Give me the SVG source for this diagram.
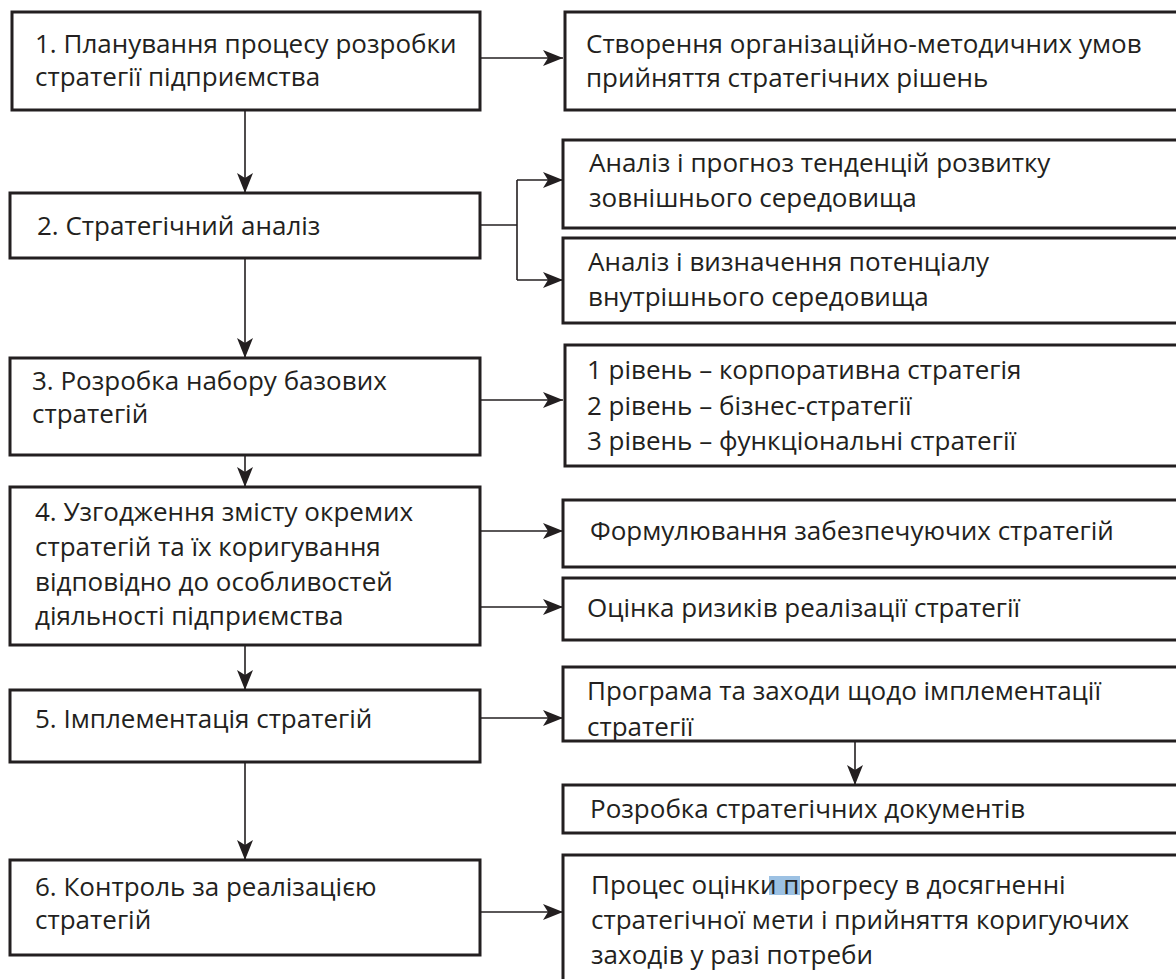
<svg xmlns="http://www.w3.org/2000/svg" width="1176" height="979" viewBox="0 0 1176 979">
<defs>
<style>
.box{fill:#fff;stroke:#231f20;stroke-width:3}
.t{font-family:"Open Sans","Noto Sans",sans-serif;font-size:26px;fill:#231f20}
.c{fill:none;stroke:#231f20;stroke-width:1.6}
</style>
<marker id="ah" markerUnits="userSpaceOnUse" markerWidth="22" markerHeight="16" refX="20" refY="8" orient="auto">
<path d="M0,0 L20,8 L0,16 L5,8 Z" fill="#231f20"/>
</marker>
</defs>
<rect width="1176" height="979" fill="#fff"/>
<g id="connectors">
<line class="c" x1="480" y1="58" x2="563" y2="58" marker-end="url(#ah)"/>
<line class="c" x1="245" y1="111" x2="245" y2="193" marker-end="url(#ah)"/>
<polyline class="c" points="480,225 517,225"/>
<line class="c" x1="517" y1="180" x2="517" y2="280"/>
<line class="c" x1="517" y1="180" x2="563" y2="180" marker-end="url(#ah)"/>
<line class="c" x1="517" y1="280" x2="563" y2="280" marker-end="url(#ah)"/>
<line class="c" x1="245" y1="258" x2="245" y2="358" marker-end="url(#ah)"/>
<line class="c" x1="480" y1="400" x2="563" y2="400" marker-end="url(#ah)"/>
<line class="c" x1="245" y1="455" x2="245" y2="487" marker-end="url(#ah)"/>
<line class="c" x1="480" y1="531" x2="563" y2="531" marker-end="url(#ah)"/>
<line class="c" x1="480" y1="607" x2="563" y2="607" marker-end="url(#ah)"/>
<line class="c" x1="245" y1="645" x2="245" y2="690" marker-end="url(#ah)"/>
<line class="c" x1="480" y1="718" x2="563" y2="718" marker-end="url(#ah)"/>
<line class="c" x1="855" y1="741" x2="855" y2="785" marker-end="url(#ah)"/>
<line class="c" x1="245" y1="762" x2="245" y2="860" marker-end="url(#ah)"/>
<line class="c" x1="480" y1="912" x2="563" y2="912" marker-end="url(#ah)"/>
</g>
<g id="n1"><rect class="box" x="12" y="12" width="468" height="98"/>
<text class="t" x="35" y="53">1. Планування процесу розробки</text>
<text class="t" x="35" y="86">стратегії підприємства</text></g>
<g id="r1"><rect class="box" x="565" y="12" width="620" height="98"/>
<text class="t" x="586" y="53">Створення організаційно-методичних умов</text>
<text class="t" x="586" y="87">прийняття стратегічних рішень</text></g>
<g id="n2"><rect class="box" x="10" y="193" width="470" height="65"/>
<text class="t" x="37" y="235">2. Стратегічний аналіз</text></g>
<g id="r2a"><rect class="box" x="563" y="140" width="622" height="88"/>
<text class="t" x="589" y="172">Аналіз і прогноз тенденцій розвитку</text>
<text class="t" x="589" y="207">зовнішнього середовища</text></g>
<g id="r2b"><rect class="box" x="563" y="238" width="622" height="85"/>
<text class="t" x="588" y="271">Аналіз і визначення потенціалу</text>
<text class="t" x="588" y="306">внутрішнього середовища</text></g>
<g id="n3"><rect class="box" x="10" y="358" width="470" height="97"/>
<text class="t" x="32" y="390">3. Розробка набору базових</text>
<text class="t" x="32" y="423">стратегій</text></g>
<g id="r3"><rect class="box" x="565" y="345" width="620" height="121"/>
<text class="t" x="587" y="379">1 рівень – корпоративна стратегія</text>
<text class="t" x="587" y="415">2 рівень – бізнес-стратегії</text>
<text class="t" x="587" y="450">3 рівень – функціональні стратегії</text></g>
<g id="n4"><rect class="box" x="10" y="487" width="470" height="158"/>
<text class="t" x="35" y="521">4. Узгодження змісту окремих</text>
<text class="t" x="35" y="556">стратегій та їх коригування</text>
<text class="t" x="35" y="591">відповідно до особливостей</text>
<text class="t" x="35" y="625">діяльності підприємства</text></g>
<g id="r4a"><rect class="box" x="563" y="500" width="622" height="67"/>
<text class="t" x="590" y="540">Формулювання забезпечуючих стратегій</text></g>
<g id="r4b"><rect class="box" x="563" y="578" width="622" height="62"/>
<text class="t" x="587" y="617">Оцінка ризиків реалізації стратегії</text></g>
<g id="n5"><rect class="box" x="10" y="690" width="470" height="72"/>
<text class="t" x="35" y="728">5. Імплементація стратегій</text></g>
<g id="r5"><rect class="box" x="563" y="667" width="622" height="74"/>
<text class="t" x="587" y="700">Програма та заходи щодо імплементації</text>
<text class="t" x="587" y="736">стратегії</text></g>
<g id="r5b"><rect class="box" x="563" y="785" width="622" height="48"/>
<text class="t" x="590" y="818">Розробка стратегічних документів</text></g>
<g id="n6"><rect class="box" x="10" y="860" width="470" height="95"/>
<text class="t" x="35" y="896">6. Контроль за реалізацією</text>
<text class="t" x="35" y="929">стратегій</text></g>
<g id="r6"><rect class="box" x="563" y="855" width="622" height="130"/>
<rect x="769" y="876" width="31" height="19" fill="#9cc1e3"/>
<text class="t" x="591" y="894">Процес оцінки прогресу в досягненні</text>
<text class="t" x="591" y="929">стратегічної мети і прийняття коригуючих</text>
<text class="t" x="591" y="964">заходів у разі потреби</text></g>
</svg>
